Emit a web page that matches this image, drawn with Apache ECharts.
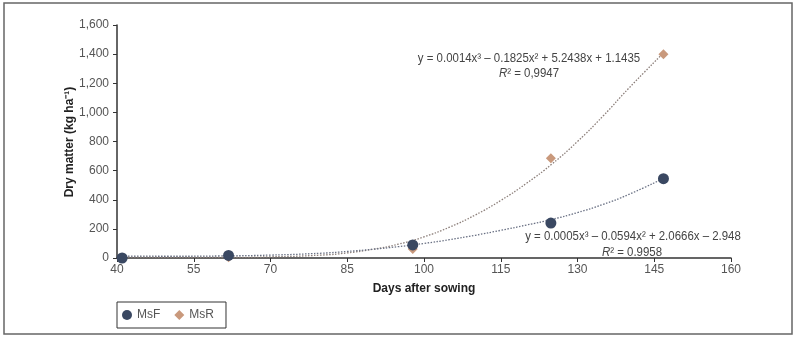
<!DOCTYPE html>
<html>
<head>
<meta charset="utf-8">
<script src="https://cdn.jsdelivr.net/npm/echarts@6/dist/echarts.min.js"></script>
<style>
html,body{margin:0;padding:0;background:#fff;}
#c{width:797px;height:339px;}
</style>
</head>
<body>
<div id="c"></div>
<script>
// ---- data ----
const seriesNames = ['MsF', 'MsR'];
const days = [41, 61.8, 97.8, 124.8, 146.8];
const msfValues = [0, 18, 90, 240, 545];
const msrValues = [0, 5, 62, 685, 1400];

// trendlines (dotted curves)
const msfTrendDays = [41, 50, 60, 70, 80, 85, 90, 95, 100, 105, 110, 115, 120, 125, 130, 135, 140, 147];
const msfTrendValues = [14, 12, 14, 20, 33, 45, 60, 78, 100, 126, 156, 190, 226, 265, 312, 368, 436, 550];
const msrTrendDays = [41, 50, 60, 70, 80, 85, 90, 95, 100, 105, 110, 115, 120, 125, 130, 135, 140, 147];
const msrTrendValues = [6, 5, 4, 8, 20, 35, 60, 95, 145, 212, 295, 395, 512, 645, 800, 975, 1165, 1415];

const xTicks = [40, 55, 70, 85, 100, 115, 130, 145, 160];
const yTicks = [0, 200, 400, 600, 800, 1000, 1200, 1400, 1600];

const xTitle = 'Days after sowing';
const yTitle = 'Dry matter (kg ha⁻¹)';
const eqMsR = 'y = 0.0014x³ – 0.1825x² + 5.2438x + 1.1435';
const r2MsR = '0,9947';
const eqMsF = 'y = 0.0005x³ – 0.0594x² + 2.0666x – 2.948';
const r2MsF = '0.9958';

const colorMsF = '#3a4862';
const colorMsR = '#c9997c';
const font = "'Liberation Sans Narrow','Arial Narrow','Liberation Sans',sans-serif";

const zip = (a, b) => a.map((v, i) => [v, b[i]]);

const chart = echarts.init(document.getElementById('c'));
chart.setOption({
  animation: false,
  backgroundColor: '#fff',
  grid: {left: 117, right: 66, top: 25, bottom: 81, containLabel: false},
  xAxis: {
    type: 'value', min: xTicks[0], max: xTicks[xTicks.length - 1], interval: 15,
    name: xTitle, nameLocation: 'middle', nameGap: 25,
    nameTextStyle: {fontFamily: font, fontWeight: 'bold', fontSize: 12, color: '#222'},
    axisLine: {lineStyle: {color: '#333', width: 1.5}},
    axisTick: {show: true, length: 4, lineStyle: {color: '#333'}},
    axisLabel: {fontFamily: font, fontSize: 12, color: '#555', margin: 6},
    splitLine: {show: false}
  },
  yAxis: {
    type: 'value', min: yTicks[0], max: yTicks[yTicks.length - 1], interval: 200,
    axisLine: {show: true, lineStyle: {color: '#333', width: 1.5}},
    axisTick: {show: true, length: 4, lineStyle: {color: '#333'}},
    axisLabel: {fontFamily: font, fontSize: 12, color: '#555', margin: 8,
      formatter: v => v.toLocaleString('en-US')},
    splitLine: {show: false}
  },
  legend: {
    data: [{name: seriesNames[0], icon: 'circle'}, {name: seriesNames[1], icon: 'diamond'}],
    left: 117, top: 302, itemWidth: 10, itemHeight: 10, itemGap: 14,
    padding: [7, 12, 7, 5],
    borderColor: '#333', borderWidth: 1, borderRadius: 0,
    textStyle: {fontFamily: font, fontSize: 12, color: '#555'}
  },
  series: [
    {
      name: seriesNames[1] + ' trend', type: 'line', data: zip(msrTrendDays, msrTrendValues),
      smooth: true, symbol: 'none', silent: true,
      lineStyle: {type: [1.5, 1.5], width: 1.3, color: '#8c7f7a'}, z: 1
    },
    {
      name: seriesNames[0] + ' trend', type: 'line', data: zip(msfTrendDays, msfTrendValues),
      smooth: true, symbol: 'none', silent: true,
      lineStyle: {type: [1.5, 1.5], width: 1.3, color: '#6a7184'}, z: 1
    },
    {
      name: seriesNames[1], type: 'scatter', data: zip(days, msrValues),
      symbol: 'diamond', symbolSize: 10, itemStyle: {color: colorMsR, opacity: 1}, z: 3
    },
    {
      name: seriesNames[0], type: 'scatter', data: zip(days, msfValues),
      symbol: 'circle', symbolSize: 11, itemStyle: {color: colorMsF, opacity: 1}, z: 4
    }
  ],
  graphic: [
    {type: 'rect', shape: {x: 4, y: 3, width: 788, height: 331}, silent: true,
     style: {fill: 'none', stroke: '#666', lineWidth: 1.5}},
    {type: 'text', x: 70, y: 142, rotation: Math.PI / 2, silent: true,
     style: {text: yTitle, align: 'center', verticalAlign: 'middle',
       fontFamily: font, fontWeight: 'bold', fontSize: 12, fill: '#222'}},
    {type: 'text', x: 529, y: 58, scaleX: 0.88, style: {text: eqMsR, fontFamily: font, fontSize: 13, fill: '#444', align: 'center', verticalAlign: 'middle'}},
    {type: 'text', x: 529, y: 73, scaleX: 0.88, style: {text: '{i|R}{n|² = ' + r2MsR + '}', align: 'center', verticalAlign: 'middle',
      rich: {i: {fontFamily: font, fontSize: 13, fontStyle: 'italic', fill: '#444'}, n: {fontFamily: font, fontSize: 13, fill: '#444'}}}},
    {type: 'text', x: 633, y: 236, scaleX: 0.88, style: {text: eqMsF, fontFamily: font, fontSize: 13, fill: '#444', align: 'center', verticalAlign: 'middle'}},
    {type: 'text', x: 632, y: 252, scaleX: 0.88, style: {text: '{i|R}{n|² = ' + r2MsF + '}', align: 'center', verticalAlign: 'middle',
      rich: {i: {fontFamily: font, fontSize: 13, fontStyle: 'italic', fill: '#444'}, n: {fontFamily: font, fontSize: 13, fill: '#444'}}}}
  ]
});
</script>
</body>
</html>
